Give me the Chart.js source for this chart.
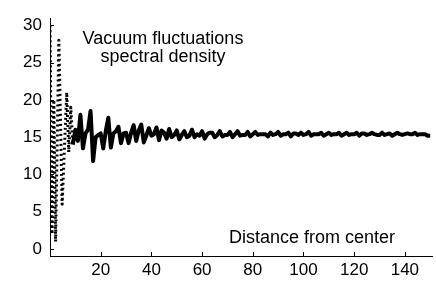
<!DOCTYPE html>
<html>
<head>
<meta charset="utf-8">
<script src="https://cdn.jsdelivr.net/npm/chart.js@4"></script>
<style>
  html, body { margin: 0; padding: 0; background: #fff; }
  #wrap { width: 436px; height: 283px; }
</style>
</head>
<body>
<div id="wrap"><canvas id="densityChart"></canvas></div>
<script>
// distance from center (x) and spectral density (y)
var distance = [0, 0.8, 1.5, 2.2, 3.5, 4.8, 6.6, 7.4, 8.2, 9,
  10, 11, 12, 13, 14, 15, 16, 17, 18, 19, 20, 21, 22, 23, 24, 25, 26, 27, 28, 29,
  30, 31, 32, 33, 34, 35, 36, 37, 38, 39, 40, 41, 42, 43, 44, 45, 46, 47, 48, 49,
  50, 51, 52, 53, 54, 55, 56, 57, 58, 59, 60, 61, 62, 63, 64, 65, 66, 67, 68, 69,
  70, 71, 72, 73, 74, 75, 76, 77, 78, 79, 80, 81, 82, 83, 84, 85, 86, 87, 88, 89,
  90, 91, 92, 93, 94, 95, 96, 97, 98, 99, 100, 101, 102, 103, 104, 105, 106, 107, 108, 109,
  110, 111, 112, 113, 114, 115, 116, 117, 118, 119, 120, 121, 122, 123, 124, 125, 126, 127, 128, 129,
  130, 131, 132, 133, 134, 135, 136, 137, 138, 139, 140, 141, 142, 143, 144, 145, 146, 147, 148, 149, 150]
var density = [30, 2, 20, 1, 28, 6, 21, 13, 19, 14,
  16, 14.5, 18, 13.5, 15.5, 16, 18.5, 11.8, 15, 15.3, 15.5, 13.5, 15.8, 17.6, 13.6, 15.5, 15.8, 16.4, 14.2, 15.5,
  15.6, 14.2, 15.6, 16.6, 14.5, 15.9, 16.7, 14.3, 15.2, 16.2, 15.2, 15.4, 16.3, 14.6, 15.9, 15.6, 14.8, 16.1, 15.0, 15.3,
  15.9, 14.7, 15.3, 15.8, 15.0, 15.2, 16.0, 15.0, 15.4, 15.2, 15.8, 14.8, 15.4, 15.6, 15.6, 15.0, 15.3, 15.8, 15.1, 15.3,
  15.3, 15.7, 15.0, 15.4, 15.8, 15.2, 15.3, 15.3, 15.7, 15.1, 15.4, 15.7, 15.3, 15.4, 15.4, 15.4, 15.1, 15.6, 15.3, 15.4,
  15.7, 15.2, 15.4, 15.4, 15.6, 15.1, 15.5, 15.5, 15.3, 15.6, 15.3, 15.4, 15.7, 15.2, 15.4, 15.4, 15.4, 15.6, 15.2, 15.4,
  15.6, 15.3, 15.4, 15.4, 15.6, 15.2, 15.4, 15.6, 15.3, 15.4, 15.4, 15.6, 15.2, 15.5, 15.5, 15.3, 15.4, 15.6, 15.4, 15.3,
  15.3, 15.6, 15.3, 15.4, 15.5, 15.2, 15.4, 15.6, 15.4, 15.3, 15.4, 15.5, 15.4, 15.4, 15.6, 15.3, 15.4, 15.4, 15.4, 15.2, 15.2]
var xTicks = [20, 40, 60, 80, 100, 120, 140]
var yTicks = [0, 5, 10, 15, 20, 25, 30]
var titleLines = ['Vacuum fluctuations', 'spectral density']
var xLabel = 'Distance from center'

var points = distance.map(function (d, i) { return { x: d, y: density[i] } })

// short tick marks drawn inward from the axis lines, plus the two text notes
var notes = {
  id: 'notes',
  afterDraw: function (chart) {
    var ctx = chart.ctx
    var xs = chart.scales.x, ys = chart.scales.y
    ctx.save()
    ctx.strokeStyle = '#000'
    ctx.lineWidth = 1
    ctx.beginPath()
    xTicks.forEach(function (v) {
      var px = Math.round(xs.getPixelForValue(v)) + 0.5
      ctx.moveTo(px, ys.bottom); ctx.lineTo(px, ys.bottom - 4)
    })
    yTicks.forEach(function (v) {
      var py = Math.round(ys.getPixelForValue(v)) + 0.5
      ctx.moveTo(xs.left, py); ctx.lineTo(xs.left + 4, py)
    })
    ctx.stroke()
    ctx.fillStyle = '#000'
    ctx.font = '18px "Liberation Sans", Arial, sans-serif'
    ctx.textAlign = 'center'
    ctx.textBaseline = 'alphabetic'
    ctx.fillText(titleLines[0], 163, 44)
    ctx.fillText(titleLines[1], 163, 62)
    ctx.fillText(xLabel, 312, 243)
    ctx.restore()
  }
}

new Chart(document.getElementById('densityChart'), {
  type: 'line',
  data: {
    datasets: [{
      data: points,
      borderColor: '#000',
      backgroundColor: '#000',
      borderWidth: 4,
      borderJoinStyle: 'round',
      // the steep first swings come out dotted, the rest is a solid heavy line
      segment: {
        borderDash: function (c) { return c.p0.parsed.x < 9 ? [2, 3] : [] },
        borderWidth: function (c) { return c.p0.parsed.x < 9 ? 3 : 4 }
      },
      pointRadius: 0,
      tension: 0,
      fill: false
    }]
  },
  options: {
    responsive: true,
    maintainAspectRatio: false,
    animation: false,
    layout: { padding: { left: 0, top: 15, right: 4, bottom: 0 } },
    plugins: { legend: { display: false }, tooltip: { enabled: false } },
    scales: {
      x: {
        type: 'linear',
        min: 0,
        max: 150.7,
        afterBuildTicks: function (s) { s.ticks = xTicks.map(function (v) { return { value: v } }) },
        afterFit: function (s) { s.height = 27 },
        grid: { display: false, drawTicks: false },
        border: { display: true, color: '#000', width: 1 },
        ticks: { color: '#000', padding: 4, maxRotation: 0, font: { family: '"Liberation Sans", Arial, sans-serif', size: 17 } }
      },
      y: {
        min: -0.93,
        max: 30.95,
        afterBuildTicks: function (s) { s.ticks = yTicks.map(function (v) { return { value: v } }) },
        afterFit: function (s) { s.width = 50 },
        grid: { display: false, drawTicks: false },
        border: { display: true, color: '#000', width: 1 },
        ticks: { color: '#000', padding: 8, font: { family: '"Liberation Sans", Arial, sans-serif', size: 17 } }
      }
    }
  },
  plugins: [notes]
})
</script>
</body>
</html>
